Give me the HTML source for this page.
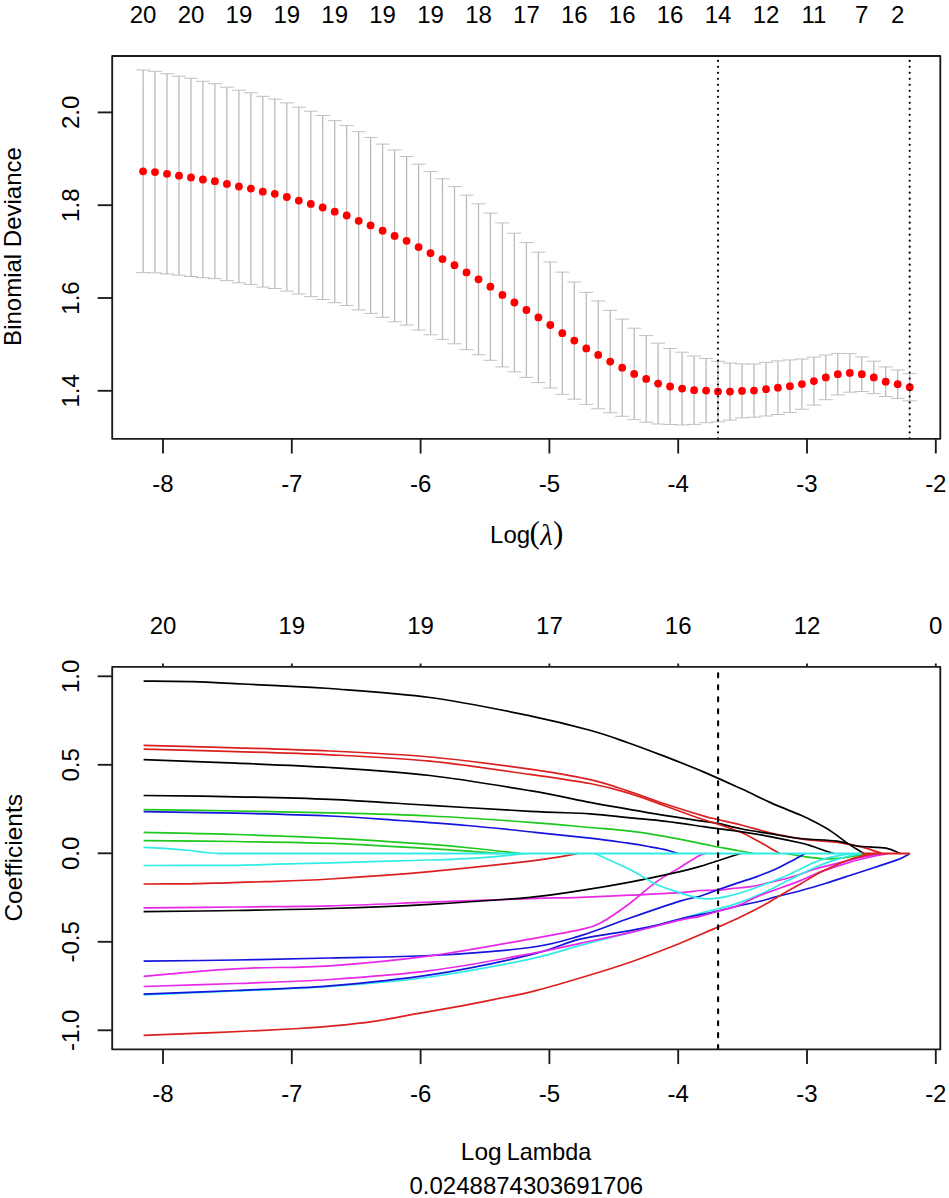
<!DOCTYPE html><html><head><meta charset="utf-8"><style>html,body{margin:0;padding:0;background:#fff;}svg{display:block}</style></head><body>
<svg width="949" height="1198" viewBox="0 0 949 1198">
<rect width="949" height="1198" fill="#fff"/>
<path d="M143.1 70.0V272.6M155.0 71.3V272.9M167.0 73.7V273.9M179.0 76.2V275.2M191.0 78.3V276.5M202.9 81.3V277.7M214.9 83.7V278.7M226.9 87.2V280.6M238.9 90.2V282.8M250.9 92.8V284.4M262.8 96.3V287.1M274.8 99.1V288.5M286.8 102.9V291.1M298.8 107.2V294.0M310.8 111.2V296.6M322.7 115.5V299.5M334.7 120.7V302.7M346.7 125.5V305.5M358.7 131.7V309.9M370.6 137.4V313.4M382.6 144.1V317.3M394.6 150.0V321.8M406.6 156.5V325.1M418.6 164.2V330.0M430.5 171.6V334.8M442.5 178.8V339.4M454.5 186.6V343.8M466.5 195.2V349.6M478.5 203.8V354.8M490.4 213.1V360.3M502.4 222.9V366.9M514.4 233.2V371.8M526.4 242.6V377.4M538.4 252.2V382.6M550.3 262.0V388.0M562.3 272.1V394.3M574.3 282.0V399.2M586.3 292.4V404.4M598.2 301.0V408.8M610.2 310.4V412.8M622.2 319.1V416.3M634.2 328.2V419.6M646.2 335.6V422.2M658.1 343.2V424.0M670.1 348.5V424.5M682.1 352.2V425.0M694.1 356.0V424.4M706.1 358.5V422.7M718.0 361.3V421.9M730.0 363.1V420.1M742.0 363.9V417.9M754.0 364.0V417.2M766.0 362.4V416.0M777.9 360.9V414.5M789.9 359.9V412.5M801.9 359.0V409.2M813.9 357.1V405.1M825.8 355.1V399.7M837.8 353.4V395.0M849.8 353.6V392.2M861.8 356.9V391.5M873.8 361.2V393.6M885.7 366.9V396.5M897.7 370.0V398.4M909.7 373.6V400.8" stroke="#b8b8b8" stroke-width="1.25" fill="none"/>
<path d="M136.1 70.0h14M136.1 272.6h14M148.0 71.3h14M148.0 272.9h14M160.0 73.7h14M160.0 273.9h14M172.0 76.2h14M172.0 275.2h14M184.0 78.3h14M184.0 276.5h14M195.9 81.3h14M195.9 277.7h14M207.9 83.7h14M207.9 278.7h14M219.9 87.2h14M219.9 280.6h14M231.9 90.2h14M231.9 282.8h14M243.9 92.8h14M243.9 284.4h14M255.8 96.3h14M255.8 287.1h14M267.8 99.1h14M267.8 288.5h14M279.8 102.9h14M279.8 291.1h14M291.8 107.2h14M291.8 294.0h14M303.8 111.2h14M303.8 296.6h14M315.7 115.5h14M315.7 299.5h14M327.7 120.7h14M327.7 302.7h14M339.7 125.5h14M339.7 305.5h14M351.7 131.7h14M351.7 309.9h14M363.6 137.4h14M363.6 313.4h14M375.6 144.1h14M375.6 317.3h14M387.6 150.0h14M387.6 321.8h14M399.6 156.5h14M399.6 325.1h14M411.6 164.2h14M411.6 330.0h14M423.5 171.6h14M423.5 334.8h14M435.5 178.8h14M435.5 339.4h14M447.5 186.6h14M447.5 343.8h14M459.5 195.2h14M459.5 349.6h14M471.5 203.8h14M471.5 354.8h14M483.4 213.1h14M483.4 360.3h14M495.4 222.9h14M495.4 366.9h14M507.4 233.2h14M507.4 371.8h14M519.4 242.6h14M519.4 377.4h14M531.4 252.2h14M531.4 382.6h14M543.3 262.0h14M543.3 388.0h14M555.3 272.1h14M555.3 394.3h14M567.3 282.0h14M567.3 399.2h14M579.3 292.4h14M579.3 404.4h14M591.2 301.0h14M591.2 408.8h14M603.2 310.4h14M603.2 412.8h14M615.2 319.1h14M615.2 416.3h14M627.2 328.2h14M627.2 419.6h14M639.2 335.6h14M639.2 422.2h14M651.1 343.2h14M651.1 424.0h14M663.1 348.5h14M663.1 424.5h14M675.1 352.2h14M675.1 425.0h14M687.1 356.0h14M687.1 424.4h14M699.1 358.5h14M699.1 422.7h14M711.0 361.3h14M711.0 421.9h14M723.0 363.1h14M723.0 420.1h14M735.0 363.9h14M735.0 417.9h14M747.0 364.0h14M747.0 417.2h14M759.0 362.4h14M759.0 416.0h14M770.9 360.9h14M770.9 414.5h14M782.9 359.9h14M782.9 412.5h14M794.9 359.0h14M794.9 409.2h14M806.9 357.1h14M806.9 405.1h14M818.8 355.1h14M818.8 399.7h14M830.8 353.4h14M830.8 395.0h14M842.8 353.6h14M842.8 392.2h14M854.8 356.9h14M854.8 391.5h14M866.8 361.2h14M866.8 393.6h14M878.7 366.9h14M878.7 396.5h14M890.7 370.0h14M890.7 398.4h14M902.7 373.6h14M902.7 400.8h14" stroke="#bababa" stroke-width="0.9" fill="none"/>
<circle cx="143.1" cy="171.3" r="3.9" fill="#f00"/>
<circle cx="155.0" cy="172.1" r="3.9" fill="#f00"/>
<circle cx="167.0" cy="173.8" r="3.9" fill="#f00"/>
<circle cx="179.0" cy="175.7" r="3.9" fill="#f00"/>
<circle cx="191.0" cy="177.4" r="3.9" fill="#f00"/>
<circle cx="202.9" cy="179.5" r="3.9" fill="#f00"/>
<circle cx="214.9" cy="181.2" r="3.9" fill="#f00"/>
<circle cx="226.9" cy="183.9" r="3.9" fill="#f00"/>
<circle cx="238.9" cy="186.5" r="3.9" fill="#f00"/>
<circle cx="250.9" cy="188.6" r="3.9" fill="#f00"/>
<circle cx="262.8" cy="191.7" r="3.9" fill="#f00"/>
<circle cx="274.8" cy="193.8" r="3.9" fill="#f00"/>
<circle cx="286.8" cy="197.0" r="3.9" fill="#f00"/>
<circle cx="298.8" cy="200.6" r="3.9" fill="#f00"/>
<circle cx="310.8" cy="203.9" r="3.9" fill="#f00"/>
<circle cx="322.7" cy="207.5" r="3.9" fill="#f00"/>
<circle cx="334.7" cy="211.7" r="3.9" fill="#f00"/>
<circle cx="346.7" cy="215.5" r="3.9" fill="#f00"/>
<circle cx="358.7" cy="220.8" r="3.9" fill="#f00"/>
<circle cx="370.6" cy="225.4" r="3.9" fill="#f00"/>
<circle cx="382.6" cy="230.7" r="3.9" fill="#f00"/>
<circle cx="394.6" cy="235.9" r="3.9" fill="#f00"/>
<circle cx="406.6" cy="240.8" r="3.9" fill="#f00"/>
<circle cx="418.6" cy="247.1" r="3.9" fill="#f00"/>
<circle cx="430.5" cy="253.2" r="3.9" fill="#f00"/>
<circle cx="442.5" cy="259.1" r="3.9" fill="#f00"/>
<circle cx="454.5" cy="265.2" r="3.9" fill="#f00"/>
<circle cx="466.5" cy="272.4" r="3.9" fill="#f00"/>
<circle cx="478.5" cy="279.3" r="3.9" fill="#f00"/>
<circle cx="490.4" cy="286.7" r="3.9" fill="#f00"/>
<circle cx="502.4" cy="294.9" r="3.9" fill="#f00"/>
<circle cx="514.4" cy="302.5" r="3.9" fill="#f00"/>
<circle cx="526.4" cy="310.0" r="3.9" fill="#f00"/>
<circle cx="538.4" cy="317.4" r="3.9" fill="#f00"/>
<circle cx="550.3" cy="325.0" r="3.9" fill="#f00"/>
<circle cx="562.3" cy="333.2" r="3.9" fill="#f00"/>
<circle cx="574.3" cy="340.6" r="3.9" fill="#f00"/>
<circle cx="586.3" cy="348.4" r="3.9" fill="#f00"/>
<circle cx="598.2" cy="354.9" r="3.9" fill="#f00"/>
<circle cx="610.2" cy="361.6" r="3.9" fill="#f00"/>
<circle cx="622.2" cy="367.7" r="3.9" fill="#f00"/>
<circle cx="634.2" cy="373.9" r="3.9" fill="#f00"/>
<circle cx="646.2" cy="378.9" r="3.9" fill="#f00"/>
<circle cx="658.1" cy="383.6" r="3.9" fill="#f00"/>
<circle cx="670.1" cy="386.5" r="3.9" fill="#f00"/>
<circle cx="682.1" cy="388.6" r="3.9" fill="#f00"/>
<circle cx="694.1" cy="390.2" r="3.9" fill="#f00"/>
<circle cx="706.1" cy="390.6" r="3.9" fill="#f00"/>
<circle cx="718.0" cy="391.6" r="3.9" fill="#f00"/>
<circle cx="730.0" cy="391.6" r="3.9" fill="#f00"/>
<circle cx="742.0" cy="390.9" r="3.9" fill="#f00"/>
<circle cx="754.0" cy="390.6" r="3.9" fill="#f00"/>
<circle cx="766.0" cy="389.2" r="3.9" fill="#f00"/>
<circle cx="777.9" cy="387.7" r="3.9" fill="#f00"/>
<circle cx="789.9" cy="386.2" r="3.9" fill="#f00"/>
<circle cx="801.9" cy="384.1" r="3.9" fill="#f00"/>
<circle cx="813.9" cy="381.1" r="3.9" fill="#f00"/>
<circle cx="825.8" cy="377.4" r="3.9" fill="#f00"/>
<circle cx="837.8" cy="374.2" r="3.9" fill="#f00"/>
<circle cx="849.8" cy="372.9" r="3.9" fill="#f00"/>
<circle cx="861.8" cy="374.2" r="3.9" fill="#f00"/>
<circle cx="873.8" cy="377.4" r="3.9" fill="#f00"/>
<circle cx="885.7" cy="381.7" r="3.9" fill="#f00"/>
<circle cx="897.7" cy="384.2" r="3.9" fill="#f00"/>
<circle cx="909.7" cy="387.2" r="3.9" fill="#f00"/>
<line x1="718.0" y1="60.87" x2="718.0" y2="439.5" stroke="#000" stroke-width="2.2" stroke-linecap="round" stroke-dasharray="0.01 5.983"/>
<line x1="909.7" y1="60.87" x2="909.7" y2="439.5" stroke="#000" stroke-width="2.2" stroke-linecap="round" stroke-dasharray="0.01 5.983"/>
<rect x="112.2" y="56.0" width="828.1" height="382.8" fill="none" stroke="#1a1a1a" stroke-width="1.85" stroke-linejoin="round"/>
<line x1="97.7" y1="112.4" x2="112.4" y2="112.4" stroke="#1a1a1a" stroke-width="1.85"/>
<text transform="translate(78.5 112.4) rotate(-90)" font-family="Liberation Sans, sans-serif" font-size="24" text-anchor="middle">2.0</text>
<line x1="97.7" y1="205.2" x2="112.4" y2="205.2" stroke="#1a1a1a" stroke-width="1.85"/>
<text transform="translate(78.5 205.2) rotate(-90)" font-family="Liberation Sans, sans-serif" font-size="24" text-anchor="middle">1.8</text>
<line x1="97.7" y1="298.0" x2="112.4" y2="298.0" stroke="#1a1a1a" stroke-width="1.85"/>
<text transform="translate(78.5 298.0) rotate(-90)" font-family="Liberation Sans, sans-serif" font-size="24" text-anchor="middle">1.6</text>
<line x1="97.7" y1="390.8" x2="112.4" y2="390.8" stroke="#1a1a1a" stroke-width="1.85"/>
<text transform="translate(78.5 390.8) rotate(-90)" font-family="Liberation Sans, sans-serif" font-size="24" text-anchor="middle">1.4</text>
<line x1="163.0" y1="438.7" x2="163.0" y2="453.5" stroke="#1a1a1a" stroke-width="1.85"/>
<text x="163.0" y="491.9" font-family="Liberation Sans, sans-serif" font-size="24" text-anchor="middle">-8</text>
<line x1="291.8" y1="438.7" x2="291.8" y2="453.5" stroke="#1a1a1a" stroke-width="1.85"/>
<text x="291.8" y="491.9" font-family="Liberation Sans, sans-serif" font-size="24" text-anchor="middle">-7</text>
<line x1="420.6" y1="438.7" x2="420.6" y2="453.5" stroke="#1a1a1a" stroke-width="1.85"/>
<text x="420.6" y="491.9" font-family="Liberation Sans, sans-serif" font-size="24" text-anchor="middle">-6</text>
<line x1="549.4" y1="438.7" x2="549.4" y2="453.5" stroke="#1a1a1a" stroke-width="1.85"/>
<text x="549.4" y="491.9" font-family="Liberation Sans, sans-serif" font-size="24" text-anchor="middle">-5</text>
<line x1="678.2" y1="438.7" x2="678.2" y2="453.5" stroke="#1a1a1a" stroke-width="1.85"/>
<text x="678.2" y="491.9" font-family="Liberation Sans, sans-serif" font-size="24" text-anchor="middle">-4</text>
<line x1="807.0" y1="438.7" x2="807.0" y2="453.5" stroke="#1a1a1a" stroke-width="1.85"/>
<text x="807.0" y="491.9" font-family="Liberation Sans, sans-serif" font-size="24" text-anchor="middle">-3</text>
<line x1="935.8" y1="438.7" x2="935.8" y2="453.5" stroke="#1a1a1a" stroke-width="1.85"/>
<text x="935.8" y="491.9" font-family="Liberation Sans, sans-serif" font-size="24" text-anchor="middle">-2</text>
<text x="143.1" y="22.7" font-family="Liberation Sans, sans-serif" font-size="24" text-anchor="middle">20</text>
<text x="191.0" y="22.7" font-family="Liberation Sans, sans-serif" font-size="24" text-anchor="middle">20</text>
<text x="238.9" y="22.7" font-family="Liberation Sans, sans-serif" font-size="24" text-anchor="middle">19</text>
<text x="286.8" y="22.7" font-family="Liberation Sans, sans-serif" font-size="24" text-anchor="middle">19</text>
<text x="334.7" y="22.7" font-family="Liberation Sans, sans-serif" font-size="24" text-anchor="middle">19</text>
<text x="382.6" y="22.7" font-family="Liberation Sans, sans-serif" font-size="24" text-anchor="middle">19</text>
<text x="430.5" y="22.7" font-family="Liberation Sans, sans-serif" font-size="24" text-anchor="middle">19</text>
<text x="478.5" y="22.7" font-family="Liberation Sans, sans-serif" font-size="24" text-anchor="middle">18</text>
<text x="526.4" y="22.7" font-family="Liberation Sans, sans-serif" font-size="24" text-anchor="middle">17</text>
<text x="574.3" y="22.7" font-family="Liberation Sans, sans-serif" font-size="24" text-anchor="middle">16</text>
<text x="622.2" y="22.7" font-family="Liberation Sans, sans-serif" font-size="24" text-anchor="middle">16</text>
<text x="670.1" y="22.7" font-family="Liberation Sans, sans-serif" font-size="24" text-anchor="middle">16</text>
<text x="718.0" y="22.7" font-family="Liberation Sans, sans-serif" font-size="24" text-anchor="middle">14</text>
<text x="766.0" y="22.7" font-family="Liberation Sans, sans-serif" font-size="24" text-anchor="middle">12</text>
<text x="813.9" y="22.7" font-family="Liberation Sans, sans-serif" font-size="24" text-anchor="middle">11</text>
<text x="861.8" y="22.7" font-family="Liberation Sans, sans-serif" font-size="24" text-anchor="middle">7</text>
<text x="897.7" y="22.7" font-family="Liberation Sans, sans-serif" font-size="24" text-anchor="middle">2</text>
<text transform="translate(20.8 246.5) rotate(-90)" font-family="Liberation Sans, sans-serif" font-size="24" text-anchor="middle">Binomial Deviance</text>
<text x="490.1" y="543" font-family="Liberation Sans, sans-serif" font-size="24">Log</text>
<text x="529.6" y="543.4" font-family="Liberation Serif, serif" font-size="31">(</text>
<text x="540.3" y="544.7" font-family="Liberation Serif, serif" font-size="29" font-style="italic">λ</text>
<text x="553.1" y="543.4" font-family="Liberation Serif, serif" font-size="31">)</text>
<path d="M143.6 681.1 C151.8 681.2 177.8 681.3 193.0 681.7 C208.2 682.1 220.9 682.9 235.0 683.6 C249.1 684.3 261.7 684.9 277.5 685.7 C293.3 686.5 304.6 686.5 330.0 688.5 C355.4 690.5 396.7 693.0 430.0 697.5 C463.3 702.0 503.3 710.3 530.0 715.8 C556.7 721.3 573.7 725.8 590.0 730.3 C606.3 734.8 615.3 738.3 628.0 742.7 C640.7 747.1 653.3 752.0 666.0 756.9 C678.7 761.8 691.3 766.7 704.0 772.1 C716.7 777.5 731.0 784.1 742.0 789.1 C753.0 794.1 760.2 798.0 770.0 802.4 C779.8 806.8 793.5 812.0 801.0 815.3 C808.5 818.6 809.9 819.4 815.0 822.1 C820.1 824.8 826.1 828.0 831.6 831.6 C837.1 835.2 843.1 840.2 848.0 843.6 C852.9 847.0 858.4 850.1 861.0 851.8 C863.6 853.4 863.1 853.2 863.5 853.5 M909.7 853.5" stroke="#000" stroke-width="1.7" fill="none" stroke-linejoin="round"/>
<path d="M143.6 745.4 C159.0 745.8 204.9 746.9 236.0 747.8 C267.1 748.7 297.7 749.5 330.0 751.0 C362.3 752.5 396.7 754.0 430.0 757.0 C463.3 760.0 503.3 765.4 530.0 769.2 C556.7 773.0 573.7 776.1 590.0 779.7 C606.3 783.3 615.3 786.9 628.0 791.0 C640.7 795.1 653.3 800.1 666.0 804.3 C678.7 808.5 695.3 813.6 704.0 816.1 C712.7 818.6 711.7 818.0 718.0 819.5 C724.3 821.0 733.3 823.0 742.0 825.2 C750.7 827.4 760.2 830.5 770.0 832.8 C779.8 835.1 792.7 837.4 801.0 838.8 C809.3 840.1 813.8 840.3 820.0 840.9 C826.2 841.5 830.8 841.3 838.0 842.4 C845.2 843.5 855.7 845.5 863.0 847.4 C870.3 849.2 878.8 852.5 882.0 853.5 M909.7 853.5" stroke="#dc2020" stroke-width="1.7" fill="none" stroke-linejoin="round"/>
<path d="M143.6 809.6 C159.0 809.8 204.9 810.5 236.0 811.0 C267.1 811.5 297.7 812.0 330.0 812.8 C362.3 813.6 396.7 814.4 430.0 816.0 C463.3 817.6 503.3 820.4 530.0 822.3 C556.7 824.2 573.7 826.1 590.0 827.5 C606.3 828.9 615.3 829.4 628.0 830.9 C640.7 832.4 653.3 834.4 666.0 836.6 C678.7 838.8 695.3 842.5 704.0 844.2 C712.7 845.9 712.3 846.0 718.0 847.0 C723.7 848.0 732.2 849.4 738.0 850.5 C743.8 851.6 750.5 853.0 753.0 853.5 M909.7 853.5" stroke="#1ec81e" stroke-width="1.7" fill="none" stroke-linejoin="round"/>
<path d="M143.6 811.7 C159.0 812.0 204.9 812.5 236.0 813.2 C267.1 813.9 302.7 814.8 330.0 816.0 C357.3 817.2 377.2 818.9 400.0 820.5 C422.8 822.1 444.5 823.5 467.0 825.5 C489.5 827.5 514.5 830.2 535.0 832.3 C555.5 834.4 574.5 836.3 590.0 838.1 C605.5 839.9 618.0 841.8 628.0 843.2 C638.0 844.7 643.7 845.7 650.0 846.8 C656.3 847.9 661.3 848.7 666.0 849.8 C670.7 850.9 676.0 852.9 678.0 853.5 M909.7 853.5" stroke="#1414dc" stroke-width="1.7" fill="none" stroke-linejoin="round"/>
<path d="M143.6 907.9 C159.0 907.8 204.9 907.4 236.0 907.0 C267.1 906.6 297.7 906.6 330.0 905.8 C362.3 905.0 396.7 903.4 430.0 902.2 C463.3 901.0 505.0 899.4 530.0 898.6 C555.0 897.8 563.3 897.9 580.0 897.3 C596.7 896.7 613.3 896.0 630.0 895.2 C646.7 894.4 668.3 893.5 680.0 892.7 C691.7 891.9 693.7 890.9 700.0 890.5 C706.3 890.1 712.7 890.5 718.0 890.2 C723.3 889.9 726.2 889.2 731.6 888.6 C737.0 888.0 744.3 887.7 750.6 886.7 C756.9 885.7 762.5 884.1 769.5 882.5 C776.5 880.9 785.0 879.1 792.7 876.8 C800.4 874.5 808.2 871.0 815.9 868.7 C823.6 866.4 831.3 864.8 839.0 862.9 C846.7 861.0 854.3 858.7 862.0 857.1 C869.7 855.5 881.5 854.1 885.4 853.5 M909.7 853.5" stroke="#e828e8" stroke-width="1.7" fill="none" stroke-linejoin="round"/>
<path d="M143.6 759.7 C159.0 760.3 204.9 761.9 236.0 763.2 C267.1 764.5 297.7 765.5 330.0 767.5 C362.3 769.5 396.7 771.6 430.0 775.5 C463.3 779.4 503.3 786.2 530.0 790.7 C556.7 795.2 573.7 799.3 590.0 802.4 C606.3 805.5 615.3 806.9 628.0 809.1 C640.7 811.3 653.3 813.7 666.0 815.7 C678.7 817.8 695.3 820.1 704.0 821.4 C712.7 822.7 711.7 822.0 718.0 823.3 C724.3 824.6 733.3 827.3 742.0 829.0 C750.7 830.7 760.3 832.1 770.0 833.7 C779.7 835.3 788.8 837.3 800.0 838.5 C811.2 839.7 827.5 839.9 837.0 841.1 C846.5 842.4 848.8 844.8 857.0 846.0 C865.2 847.2 879.0 846.9 886.0 848.1 C893.0 849.3 896.7 852.2 899.0 853.1 C901.3 854.0 899.8 853.4 900.0 853.5 M909.7 853.5" stroke="#000" stroke-width="1.7" fill="none" stroke-linejoin="round"/>
<path d="M143.6 749.1 C159.0 749.5 204.9 750.7 236.0 751.6 C267.1 752.5 297.7 753.2 330.0 754.8 C362.3 756.4 396.7 757.9 430.0 761.2 C463.3 764.5 503.3 770.7 530.0 774.4 C556.7 778.1 573.7 780.4 590.0 783.5 C606.3 786.6 615.3 789.1 628.0 792.9 C640.7 796.7 654.0 801.9 666.0 806.2 C678.0 810.5 691.3 815.5 700.0 818.5 C708.7 821.5 711.0 821.8 718.0 824.2 C725.0 826.6 735.5 830.1 742.0 832.8 C748.5 835.5 752.3 838.0 757.0 840.5 C761.7 843.0 766.2 845.8 770.0 848.0 C773.8 850.2 778.1 852.6 779.7 853.5 M909.7 853.5" stroke="#dc2020" stroke-width="1.7" fill="none" stroke-linejoin="round"/>
<path d="M143.6 832.4 C159.0 832.8 204.9 833.5 236.0 834.5 C267.1 835.5 297.7 836.5 330.0 838.1 C362.3 839.8 405.0 842.6 430.0 844.4 C455.0 846.2 465.0 847.5 480.0 849.0 C495.0 850.5 513.3 852.8 520.0 853.5 M785.0 853.5 C788.5 854.1 799.3 856.0 806.0 856.9 C812.7 857.8 819.0 858.6 825.0 858.8 C831.0 859.0 836.7 858.7 842.0 858.2 C847.3 857.7 852.3 856.4 857.0 855.6 C861.7 854.8 867.8 853.9 870.0 853.5 M909.7 853.5" stroke="#1ec81e" stroke-width="1.7" fill="none" stroke-linejoin="round"/>
<path d="M143.6 961.2 C159.0 961.0 204.9 960.5 236.0 960.0 C267.1 959.5 297.7 958.8 330.0 958.0 C362.3 957.2 396.7 957.2 430.0 955.5 C463.3 953.8 505.0 950.8 530.0 947.5 C555.0 944.2 563.3 940.8 580.0 935.9 C596.7 931.0 613.3 923.8 630.0 918.0 C646.7 912.2 668.3 904.7 680.0 901.1 C691.7 897.5 693.7 898.1 700.0 896.2 C706.3 894.3 711.7 892.0 718.0 889.8 C724.3 887.6 731.4 885.1 737.9 882.9 C744.4 880.7 750.6 878.9 756.9 876.6 C763.2 874.3 770.6 871.3 775.9 869.0 C781.2 866.7 784.3 864.8 788.5 862.6 C792.7 860.4 798.5 857.2 801.2 855.7 C804.0 854.2 804.4 853.9 805.0 853.5 M909.7 853.5" stroke="#1414dc" stroke-width="1.7" fill="none" stroke-linejoin="round"/>
<path d="M143.6 976.4 C148.3 976.0 160.3 974.8 172.0 973.8 C183.7 972.8 200.0 971.2 214.0 970.2 C228.0 969.2 236.7 968.6 256.0 967.9 C275.3 967.2 301.0 967.8 330.0 965.8 C359.0 963.8 396.7 960.3 430.0 955.9 C463.3 951.5 505.0 943.5 530.0 939.1 C555.0 934.7 568.3 932.2 580.0 929.6 C591.7 927.0 591.7 927.6 600.0 923.2 C608.3 918.8 620.7 910.1 630.0 903.2 C639.3 896.4 647.7 888.1 656.0 882.1 C664.3 876.1 672.8 871.8 680.0 867.4 C687.2 863.0 694.8 858.1 699.0 855.8 C703.2 853.5 704.0 853.9 705.0 853.5 M909.7 853.5" stroke="#e828e8" stroke-width="1.7" fill="none" stroke-linejoin="round"/>
<path d="M143.6 795.5 C159.0 795.7 204.9 796.1 236.0 796.8 C267.1 797.4 297.7 798.0 330.0 799.4 C362.3 800.8 396.7 803.4 430.0 805.4 C463.3 807.4 503.3 809.9 530.0 811.3 C556.7 812.7 573.7 812.8 590.0 813.8 C606.3 814.8 615.3 816.3 628.0 817.6 C640.7 818.9 653.3 819.9 666.0 821.4 C678.7 822.9 695.3 825.5 704.0 826.7 C712.7 827.9 711.7 827.8 718.0 828.6 C724.3 829.5 733.3 830.5 742.0 831.8 C750.7 833.1 760.2 834.7 770.0 836.6 C779.8 838.5 793.8 841.4 801.0 843.0 C808.2 844.6 808.5 845.0 813.0 846.5 C817.5 848.0 824.5 850.6 828.0 851.8 C831.5 853.0 833.0 853.2 834.0 853.5 M909.7 853.5" stroke="#000" stroke-width="1.7" fill="none" stroke-linejoin="round"/>
<path d="M143.6 884.0 C151.2 884.0 175.1 884.0 189.0 883.8 C202.9 883.6 214.3 883.1 227.0 882.8 C239.7 882.4 247.8 882.3 265.0 881.7 C282.2 881.1 302.5 880.7 330.0 879.0 C357.5 877.3 396.7 874.6 430.0 871.6 C463.3 868.6 505.3 864.1 530.0 861.1 C554.7 858.1 570.0 854.8 578.0 853.5 M909.7 853.5" stroke="#dc2020" stroke-width="1.7" fill="none" stroke-linejoin="round"/>
<path d="M143.6 840.6 C159.0 840.8 204.9 841.0 236.0 841.5 C267.1 842.0 297.7 842.2 330.0 843.4 C362.3 844.6 401.7 846.9 430.0 848.6 C458.3 850.3 488.3 852.7 500.0 853.5 M909.7 853.5" stroke="#1ec81e" stroke-width="1.7" fill="none" stroke-linejoin="round"/>
<path d="M143.6 994.8 C159.0 994.2 204.9 992.4 236.0 991.0 C267.1 989.6 297.7 988.8 330.0 986.5 C362.3 984.2 396.7 981.6 430.0 977.0 C463.3 972.4 505.0 964.4 530.0 959.1 C555.0 953.8 563.3 949.8 580.0 945.4 C596.7 941.0 613.3 937.1 630.0 932.7 C646.7 928.3 668.3 922.2 680.0 919.0 C691.7 915.8 693.7 914.9 700.0 913.2 C706.3 911.5 711.7 910.5 718.0 908.8 C724.3 907.1 730.4 905.7 737.9 903.1 C745.4 900.5 754.8 896.8 763.2 893.0 C771.6 889.2 779.0 884.9 788.5 880.3 C798.0 875.7 810.6 869.1 820.0 865.2 C829.4 861.3 838.3 859.0 845.0 857.0 C851.7 855.0 857.5 854.1 860.0 853.5 M909.7 853.5" stroke="#30ece6" stroke-width="1.7" fill="none" stroke-linejoin="round"/>
<path d="M143.6 994.1 C159.0 993.5 204.9 991.9 236.0 990.5 C267.1 989.1 297.7 988.4 330.0 985.8 C362.3 983.2 396.7 980.0 430.0 974.9 C463.3 969.8 505.0 960.9 530.0 954.9 C555.0 948.9 563.3 943.1 580.0 939.1 C596.7 935.1 617.3 932.9 630.0 930.6 C642.7 928.3 647.7 927.3 656.0 925.4 C664.3 923.5 669.7 921.4 680.0 919.0 C690.3 916.6 708.4 913.2 718.0 911.0 C727.6 908.8 730.4 907.8 737.9 906.0 C745.4 904.2 756.9 902.0 763.2 900.5 C769.5 899.0 769.6 898.5 775.9 896.8 C782.2 895.1 793.0 892.7 801.2 890.5 C809.4 888.3 817.1 886.0 825.3 883.5 C833.5 881.0 842.2 878.0 850.6 875.2 C859.0 872.5 867.9 869.6 875.9 867.0 C883.9 864.4 893.3 861.4 898.6 859.4 C903.9 857.4 905.6 856.0 907.5 855.0 C909.4 854.0 909.3 853.8 909.7 853.5" stroke="#1414dc" stroke-width="1.7" fill="none" stroke-linejoin="round"/>
<path d="M143.6 986.5 C159.0 986.0 204.9 984.7 236.0 983.5 C267.1 982.3 297.7 981.6 330.0 979.5 C362.3 977.4 396.7 975.0 430.0 970.7 C463.3 966.4 505.0 958.4 530.0 953.8 C555.0 949.2 563.3 946.8 580.0 943.3 C596.7 939.8 613.3 936.6 630.0 932.7 C646.7 928.8 668.3 922.8 680.0 920.1 C691.7 917.4 693.7 917.9 700.0 916.4 C706.3 914.9 711.7 913.1 718.0 911.3 C724.3 909.5 730.9 908.2 737.9 905.6 C744.9 903.0 750.0 899.5 760.0 895.5 C770.0 891.5 788.0 885.5 798.0 881.6 C808.0 877.7 811.6 875.3 820.0 872.1 C828.4 868.9 839.3 865.3 848.5 862.6 C857.7 859.9 868.3 857.5 875.0 856.0 C881.7 854.5 886.2 853.9 888.5 853.5 M909.7 853.5" stroke="#e828e8" stroke-width="1.7" fill="none" stroke-linejoin="round"/>
<path d="M143.6 911.7 C159.0 911.5 204.9 911.0 236.0 910.5 C267.1 910.0 297.7 909.5 330.0 908.5 C362.3 907.5 396.7 906.2 430.0 904.3 C463.3 902.4 505.0 899.6 530.0 897.3 C555.0 895.0 563.3 893.1 580.0 890.6 C596.7 888.1 613.3 885.3 630.0 882.1 C646.7 878.9 668.3 874.2 680.0 871.6 C691.7 869.0 693.7 868.2 700.0 866.4 C706.3 864.6 712.7 862.4 718.0 860.7 C723.3 859.0 727.9 857.5 731.6 856.3 C735.4 855.1 739.0 854.0 740.5 853.5 M909.7 853.5" stroke="#000" stroke-width="1.7" fill="none" stroke-linejoin="round"/>
<path d="M143.6 1035.3 C155.3 1034.8 188.1 1033.7 214.0 1032.6 C239.9 1031.5 279.7 1029.6 299.0 1028.5 C318.3 1027.4 317.8 1027.4 330.0 1026.2 C342.2 1025.0 358.0 1023.6 372.0 1021.6 C386.0 1019.6 400.0 1016.7 414.0 1014.2 C428.0 1011.8 441.8 1009.5 456.0 1006.9 C470.2 1004.3 486.7 1000.9 499.0 998.4 C511.3 995.9 516.5 995.5 530.0 992.1 C543.5 988.7 563.3 983.0 580.0 978.0 C596.7 973.0 613.3 968.0 630.0 962.2 C646.7 956.4 668.3 947.9 680.0 943.3 C691.7 938.7 693.7 937.4 700.0 934.7 C706.3 932.0 711.7 929.8 718.0 927.1 C724.3 924.4 730.4 921.9 737.9 918.3 C745.4 914.7 755.8 909.6 763.2 905.6 C770.6 901.6 775.9 898.0 782.2 894.3 C788.5 890.6 795.2 887.0 801.2 883.5 C807.2 880.0 812.4 876.5 818.0 873.5 C823.6 870.5 829.7 867.8 835.0 865.5 C840.3 863.2 845.0 861.2 850.0 859.5 C855.0 857.8 860.7 856.5 865.0 855.5 C869.3 854.5 874.2 853.8 876.0 853.5 M909.7 853.5" stroke="#dc2020" stroke-width="1.7" fill="none" stroke-linejoin="round"/>
<path d="M143.6 865.5 C158.8 865.5 212.7 865.5 235.0 865.3 C257.3 865.1 261.7 864.6 277.5 864.2 C293.3 863.8 304.6 863.5 330.0 862.8 C355.4 862.1 405.0 860.8 430.0 860.0 C455.0 859.2 463.8 858.9 480.0 857.8 C496.2 856.7 519.2 854.2 527.0 853.5 M909.7 853.5" stroke="#30ece6" stroke-width="1.7" fill="none" stroke-linejoin="round"/>
<path d="M143.6 847.3 C147.2 847.5 157.3 847.8 165.0 848.3 C172.7 848.8 183.3 849.8 190.0 850.5 C196.7 851.2 200.3 852.0 205.0 852.5 C209.7 853.0 215.8 853.3 218.0 853.5 M595.0 853.5 C600.8 856.2 619.8 864.4 630.0 869.5 C640.2 874.6 647.7 880.4 656.0 884.3 C664.3 888.2 672.8 890.4 680.0 892.7 C687.2 895.0 693.7 897.2 699.0 898.2 C704.3 899.2 707.7 898.9 712.0 898.7 C716.3 898.5 719.7 898.0 725.0 896.8 C730.3 895.6 737.7 893.7 744.0 891.7 C750.3 889.7 755.7 887.8 763.0 885.0 C770.3 882.2 778.5 879.1 788.0 875.0 C797.5 870.9 809.7 863.7 820.0 860.1 C830.3 856.5 845.0 854.6 850.0 853.5 M909.7 853.5" stroke="#30ece6" stroke-width="1.7" fill="none" stroke-linejoin="round"/>
<path d="M218 853.5H862" stroke="#30ece6" stroke-width="1.8" fill="none"/>
<path d="M862 853.5H909.7" stroke="#dc2020" stroke-width="1.8" fill="none"/>
<line x1="718.1" y1="673.35" x2="718.1" y2="1048.6" stroke="#000" stroke-width="2.1" stroke-linecap="round" stroke-dasharray="4.0 7.994"/>
<rect x="112.2" y="666.9" width="828.1" height="382.5" fill="none" stroke="#1a1a1a" stroke-width="1.85" stroke-linejoin="round"/>
<line x1="97.7" y1="676.3" x2="112.4" y2="676.3" stroke="#1a1a1a" stroke-width="1.85"/>
<text transform="translate(78.5 676.3) rotate(-90)" font-family="Liberation Sans, sans-serif" font-size="24" text-anchor="middle">1.0</text>
<line x1="97.7" y1="764.8" x2="112.4" y2="764.8" stroke="#1a1a1a" stroke-width="1.85"/>
<text transform="translate(78.5 764.8) rotate(-90)" font-family="Liberation Sans, sans-serif" font-size="24" text-anchor="middle">0.5</text>
<line x1="97.7" y1="853.3" x2="112.4" y2="853.3" stroke="#1a1a1a" stroke-width="1.85"/>
<text transform="translate(78.5 853.3) rotate(-90)" font-family="Liberation Sans, sans-serif" font-size="24" text-anchor="middle">0.0</text>
<line x1="97.7" y1="941.8" x2="112.4" y2="941.8" stroke="#1a1a1a" stroke-width="1.85"/>
<text transform="translate(78.5 941.8) rotate(-90)" font-family="Liberation Sans, sans-serif" font-size="24" text-anchor="middle">-0.5</text>
<line x1="97.7" y1="1030.3" x2="112.4" y2="1030.3" stroke="#1a1a1a" stroke-width="1.85"/>
<text transform="translate(78.5 1030.3) rotate(-90)" font-family="Liberation Sans, sans-serif" font-size="24" text-anchor="middle">-1.0</text>
<line x1="163.0" y1="1049.4" x2="163.0" y2="1064.1" stroke="#1a1a1a" stroke-width="1.85"/>
<line x1="163.0" y1="663.5" x2="163.0" y2="667" stroke="#1a1a1a" stroke-width="1.85"/>
<text x="163.0" y="1102.1" font-family="Liberation Sans, sans-serif" font-size="24" text-anchor="middle">-8</text>
<text x="163.0" y="633.6" font-family="Liberation Sans, sans-serif" font-size="24" text-anchor="middle">20</text>
<line x1="291.8" y1="1049.4" x2="291.8" y2="1064.1" stroke="#1a1a1a" stroke-width="1.85"/>
<line x1="291.8" y1="663.5" x2="291.8" y2="667" stroke="#1a1a1a" stroke-width="1.85"/>
<text x="291.8" y="1102.1" font-family="Liberation Sans, sans-serif" font-size="24" text-anchor="middle">-7</text>
<text x="291.8" y="633.6" font-family="Liberation Sans, sans-serif" font-size="24" text-anchor="middle">19</text>
<line x1="420.6" y1="1049.4" x2="420.6" y2="1064.1" stroke="#1a1a1a" stroke-width="1.85"/>
<line x1="420.6" y1="663.5" x2="420.6" y2="667" stroke="#1a1a1a" stroke-width="1.85"/>
<text x="420.6" y="1102.1" font-family="Liberation Sans, sans-serif" font-size="24" text-anchor="middle">-6</text>
<text x="420.6" y="633.6" font-family="Liberation Sans, sans-serif" font-size="24" text-anchor="middle">19</text>
<line x1="549.4" y1="1049.4" x2="549.4" y2="1064.1" stroke="#1a1a1a" stroke-width="1.85"/>
<line x1="549.4" y1="663.5" x2="549.4" y2="667" stroke="#1a1a1a" stroke-width="1.85"/>
<text x="549.4" y="1102.1" font-family="Liberation Sans, sans-serif" font-size="24" text-anchor="middle">-5</text>
<text x="549.4" y="633.6" font-family="Liberation Sans, sans-serif" font-size="24" text-anchor="middle">17</text>
<line x1="678.2" y1="1049.4" x2="678.2" y2="1064.1" stroke="#1a1a1a" stroke-width="1.85"/>
<line x1="678.2" y1="663.5" x2="678.2" y2="667" stroke="#1a1a1a" stroke-width="1.85"/>
<text x="678.2" y="1102.1" font-family="Liberation Sans, sans-serif" font-size="24" text-anchor="middle">-4</text>
<text x="678.2" y="633.6" font-family="Liberation Sans, sans-serif" font-size="24" text-anchor="middle">16</text>
<line x1="807.0" y1="1049.4" x2="807.0" y2="1064.1" stroke="#1a1a1a" stroke-width="1.85"/>
<line x1="807.0" y1="663.5" x2="807.0" y2="667" stroke="#1a1a1a" stroke-width="1.85"/>
<text x="807.0" y="1102.1" font-family="Liberation Sans, sans-serif" font-size="24" text-anchor="middle">-3</text>
<text x="807.0" y="633.6" font-family="Liberation Sans, sans-serif" font-size="24" text-anchor="middle">12</text>
<line x1="935.8" y1="1049.4" x2="935.8" y2="1064.1" stroke="#1a1a1a" stroke-width="1.85"/>
<line x1="935.8" y1="663.5" x2="935.8" y2="667" stroke="#1a1a1a" stroke-width="1.85"/>
<text x="935.8" y="1102.1" font-family="Liberation Sans, sans-serif" font-size="24" text-anchor="middle">-2</text>
<text x="935.8" y="633.6" font-family="Liberation Sans, sans-serif" font-size="24" text-anchor="middle">0</text>
<text transform="translate(21.6 857.8) rotate(-90)" font-family="Liberation Sans, sans-serif" font-size="24.5" text-anchor="middle">Coefficients</text>
<text x="460.8" y="1159.6" font-family="Liberation Sans, sans-serif" font-size="24" textLength="40.8" lengthAdjust="spacingAndGlyphs">Log</text>
<text x="506.8" y="1159.6" font-family="Liberation Sans, sans-serif" font-size="24" textLength="84.4" lengthAdjust="spacingAndGlyphs">Lambda</text>
<text x="526.3" y="1194.0" font-family="Liberation Sans, sans-serif" font-size="24" text-anchor="middle">0.0248874303691706</text>
</svg></body></html>
